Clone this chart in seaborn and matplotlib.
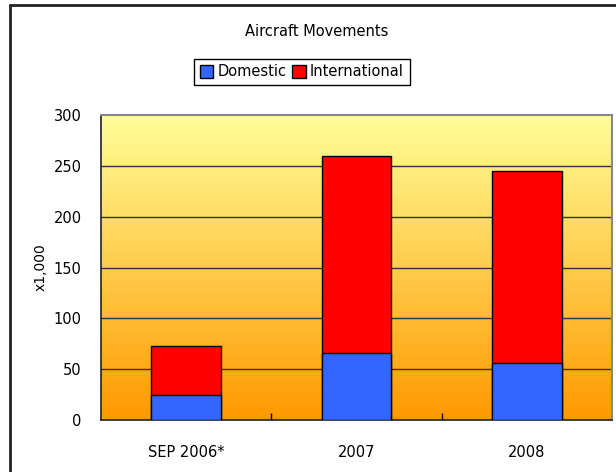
import numpy as np
import pandas as pd
import matplotlib
matplotlib.use("Agg")
import matplotlib.pyplot as plt
import seaborn as sns
from matplotlib.patches import Patch
from matplotlib.colors import LinearSegmentedColormap

categories = ["SEP 2006*", "2007", "2008"]
domestic = [25, 66, 56]
international = [48, 194, 189]
yticks = [0, 50, 100, 150, 200, 250, 300]

totals = [d + i for d, i in zip(domestic, international)]
df = pd.DataFrame({"period": categories, "Domestic": domestic, "Total": totals})

sns.set_theme(style="white")
plt.rcParams['font.family'] = ['DejaVu Sans']
plt.rcParams['text.color'] = 'black'
plt.rcParams['axes.labelcolor'] = 'black'
plt.rcParams['xtick.color'] = 'black'
plt.rcParams['ytick.color'] = 'black'

fig = plt.figure(figsize=(6.16, 4.72), dpi=100)
ax = fig.add_axes([101/616, 52/472, 511/616, 305/472])

# gradient background
cmap = LinearSegmentedColormap.from_list("bg", ["#FF9900", "#FFFF99"])
grad = np.linspace(0, 1, 256).reshape(-1, 1)
ax.imshow(grad, cmap=cmap, aspect="auto", origin="lower",
          extent=(-0.5, 2.5, 0, 300), zorder=0)

for y in yticks[1:-1]:
    ax.axhline(y, color="#333333", lw=1, zorder=1)

sns.barplot(data=df, x="period", y="Total", color="#FF0000", width=0.41,
            edgecolor="black", linewidth=1, saturation=1, ax=ax, zorder=2)
sns.barplot(data=df, x="period", y="Domestic", color="#3366FF", width=0.41,
            edgecolor="black", linewidth=1, saturation=1, ax=ax, zorder=3)

ax.set_xlim(-0.5, 2.5)
ax.set_ylim(0, 300)
ax.set_yticks(yticks)
ax.set_xlabel("")
ax.set_ylabel("x1,000", fontsize=10, labelpad=4)
ax.tick_params(axis="x", which="major", length=0, pad=18, labelsize=10.5)
ax.tick_params(axis="y", length=0, pad=14, labelsize=10.5)
ax.set_xticks([0.5, 1.5], minor=True)
ax.tick_params(axis="x", which="minor", direction="in", length=5, width=1, color="black", bottom=True)

for s in ["left", "bottom"]:
    ax.spines[s].set_color("#222222")
    ax.spines[s].set_linewidth(1.2)
for s in ["top", "right"]:
    ax.spines[s].set_color("#888888")
    ax.spines[s].set_linewidth(1.5)

fig.text(317/616, 1 - 31/472, "Aircraft Movements", fontsize=10.5,
         ha="center", va="center", color="black")

handles = [Patch(facecolor="#3366FF", edgecolor="black", label="Domestic"),
           Patch(facecolor="#FF0000", edgecolor="black", label="International")]
leg = fig.legend(handles=handles, loc="center", bbox_to_anchor=(302/616, 1 - 72/472),
                 ncol=2, frameon=True, fancybox=False, edgecolor="black",
                 fontsize=10.5, handlelength=0.9, handleheight=0.9, handletextpad=0.3,
                 columnspacing=0.4, borderpad=0.4, borderaxespad=0.2, framealpha=1)
for t in leg.get_texts():
    t.set_color("black")

# outer frame
fig.add_artist(plt.Line2D([10/616, 10/616], [0, 1 - 5/472], color="#222222", lw=2, transform=fig.transFigure))
fig.add_artist(plt.Line2D([10/616, 1], [1 - 5/472, 1 - 5/472], color="#222222", lw=2, transform=fig.transFigure))

fig.savefig("out.png", dpi=100)
